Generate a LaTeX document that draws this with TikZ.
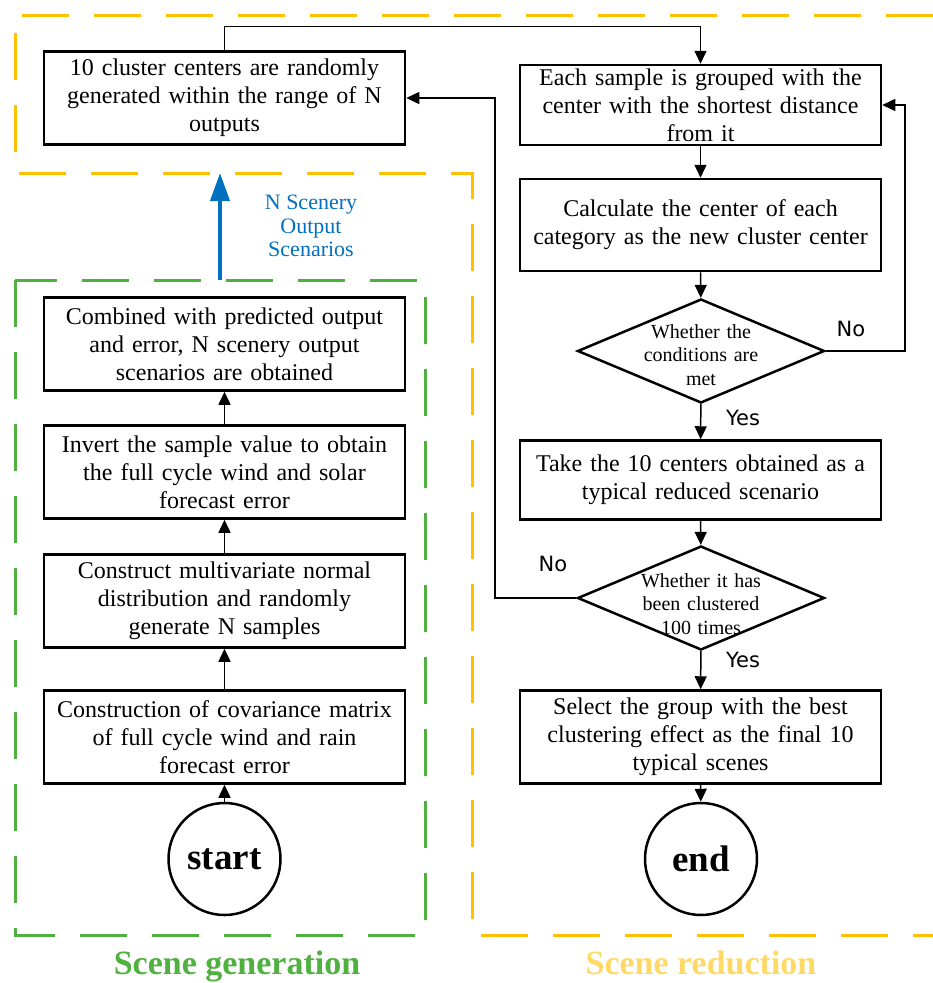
\documentclass[tikz,border=0pt]{standalone}
\usepackage{fontspec}
\setmainfont{Liberation Serif}
\newfontfamily\yesnofont{DejaVu Sans}
\usetikzlibrary{arrows.meta,shapes.geometric}
\definecolor{gold}{RGB}{255,192,0}
\definecolor{lightgold}{RGB}{255,217,102}
\definecolor{sgreen}{RGB}{80,176,64}
\definecolor{sblue}{RGB}{0,112,192}
\begin{document}
\begin{tikzpicture}[x=1pt,y=-1pt,
  box/.style={draw,line width=2.5pt,text width=345pt,inner xsep=8pt,inner ysep=0pt,align=center,font=\fontsize{24}{28}\selectfont},
  term/.style={draw,circle,line width=2.5pt,minimum size=112pt,inner sep=0pt,font=\fontsize{37}{37}\selectfont\bfseries},
  dec/.style={draw,diamond,line width=2.5pt,minimum width=247pt,minimum height=104pt,inner sep=0pt},
  dectext/.style={align=center,text width=150pt,inner sep=0pt,font=\fontsize{20}{23.5}\selectfont},
  conn/.style={line width=1.5pt,-{Triangle[length=13pt,width=12pt]}},
  yn/.style={font=\yesnofont\fontsize{21}{21}\selectfont},
  region/.style={line width=3pt,dash pattern=on 47pt off 25pt},
  title/.style={inner sep=0pt,anchor=base,font=\fontsize{34}{34}\selectfont\bfseries}]
\useasboundingbox (0,0) rectangle (933,983);

% regions
\draw[region,gold] (933,15) -- (15,15) -- (15,173) -- (472,173) -- (472,935) -- (933,935);
\draw[region,sgreen] (15,280) rectangle (425,935);

% left column
\node[box,minimum height=93pt] (A) at (224.5,98) {10 cluster centers are randomly\\generated within the range of N\\outputs};
\node[box,minimum height=93pt] (L1) at (224.5,344) {Combined with predicted output\\and error, N scenery output\\scenarios are obtained};
\node[box,minimum height=93pt] (L2) at (224.5,472) {Invert the sample value to obtain\\the full cycle wind and solar\\forecast error};
\node[box,minimum height=93pt] (L3) at (224.5,601) {Construct multivariate normal\\distribution and randomly\\generate N samples};
\node[box,minimum height=93pt] (L4) at (224.5,737) {Construction of covariance matrix\\of full cycle wind and rain\\forecast error};
\node[term] (S) at (224.5,859) {start};

% right column
\node[box,minimum height=80pt] (R1) at (700.5,105) {Each sample is grouped with the\\center with the shortest distance\\from it};
\node[box,minimum height=92pt] (R2) at (700.5,225) {Calculate the center of each\\category as the new cluster center};
\node[dec] (D1) at (701,351) {};
\node[dectext] (D1t) at (701,355) {Whether the\\conditions are\\met};
\node[box,minimum height=79pt] (R3) at (700.5,480) {Take the 10 centers obtained as a\\typical reduced scenario};
\node[dec] (D2) at (701,598) {};
\node[dectext] (D2t) at (701,604) {Whether it has\\been clustered\\100 times};
\node[box,minimum height=93pt] (R4) at (700.5,737) {Select the group with the best\\clustering effect as the final 10\\typical scenes};
\node[term] (E) at (701,859) {end};

% left arrows (upward)
\draw[conn] (S) -- (L4);
\draw[conn] (L4) -- (L3);
\draw[conn] (L3) -- (L2);
\draw[conn] (L2) -- (L1);

% blue arrow
\coordinate (bs) at (220,280);
\coordinate (be) at (220,173);
\draw[line width=4pt,sblue,-{Triangle[length=28pt,width=19pt]}] (bs) -- (be);
\node[sblue,align=center,font=\fontsize{22}{23.5}\selectfont] (lab) at (311,226) {N Scenery\\Output\\Scenarios};

% right arrows
\draw[conn] (A.north) -- ++(0,-24) -| (R1.north);
\draw[conn] (R1) -- (R2);
\draw[conn] (R2) -- (D1);
\draw[conn] (D1) -- (R3);
\draw[conn] (R3) -- (D2);
\draw[conn] (D2) -- (R4);
\draw[conn] (R4) -- (E);
\coordinate (c1) at (905,351);
\draw[conn] (D1.east) -- (c1) |- (R1.east);
\coordinate (c2) at (495,598);
\draw[conn] (D2.west) -- (c2) |- (A.east);

% yes / no
\node[yn] (no1) at (851,329) {No};
\node[yn] (yes1) at (743,418) {Yes};
\node[yn] (no2) at (553,564) {No};
\node[yn] (yes2) at (743,660) {Yes};

% titles
\node[title,sgreen] (tg) at (237,974) {Scene generation};
\node[title,lightgold] (tr) at (701,974) {Scene reduction};
\end{tikzpicture}
\end{document}
